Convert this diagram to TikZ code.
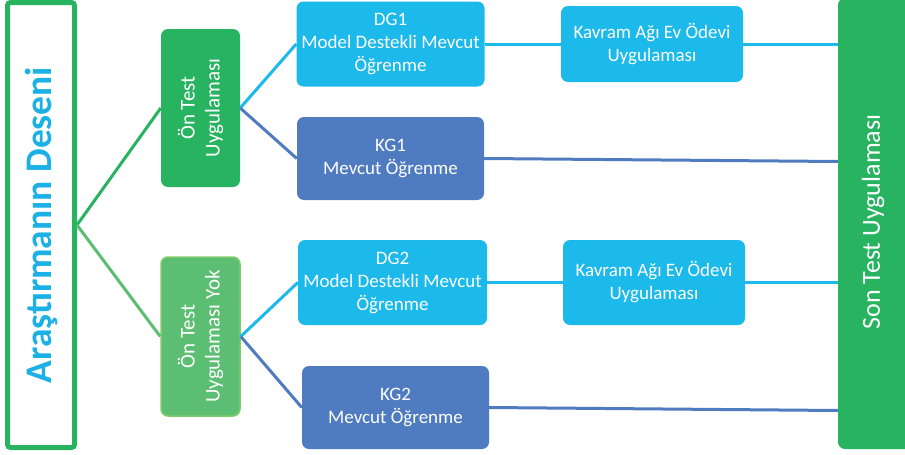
\documentclass[tikz,border=0pt]{standalone}
\usepackage{fontspec}
\setmainfont{Carlito}
\usetikzlibrary{calc}
\definecolor{cyanbox}{HTML}{1CB9EB}
\definecolor{bluebox}{HTML}{4F7BC0}
\definecolor{greenbox}{HTML}{27B35F}
\definecolor{lgreen}{HTML}{5CBE72}
\definecolor{lgreenb}{HTML}{7FCB6C}
\definecolor{titlecyan}{HTML}{1BB0E6}
\tikzset{
  box/.style={rounded corners=7pt, inner sep=0pt, align=center, text=white,
    font=\fontsize{19}{23}\selectfont},
  cbox/.style={box, fill=cyanbox},
  bbox/.style={box, fill=bluebox},
  gbox/.style={box, fill=greenbox},
  lgbox/.style={box, fill=lgreen, draw=lgreenb, line width=1.5pt},
  rottext/.style={rotate=90, align=center, text=white, font=\fontsize{21}{25}\selectfont},
  conn/.style={line width=3pt},
}
\begin{document}
\begin{tikzpicture}[x=1pt,y=-1pt]
\clip (0,0) rectangle (905,455);
\fill[white] (0,0) rectangle (905,455);
% title box
\node[draw=greenbox, line width=5pt, rounded corners=3pt, minimum width=67pt, minimum height=445pt, inner sep=0pt] (title) at (41,225) {};
\node[rotate=90, text=titlecyan, font=\fontsize{37.5}{40}\selectfont\bfseries] at (41,225) {Araştırmanın Deseni};
% group boxes
\node[gbox, minimum width=79pt, minimum height=158pt] (ont) at (200.5,108) {};
\node[rottext] at (200.5,108) {Ön Test\\Uygulaması};
\node[lgbox, minimum width=79pt, minimum height=159pt] (ony) at (200.5,336.5) {};
\node[rottext] at (200.5,336.5) {Ön Test\\Uygulaması Yok};
% groups
\node[cbox, minimum width=188pt, minimum height=85pt] (dg1) at (390.5,44) {DG1\\Model Destekli Mevcut\\Öğrenme};
\node[bbox, minimum width=187pt, minimum height=83pt] (kg1) at (390.5,158.5) {KG1\\Mevcut Öğrenme};
\node[cbox, minimum width=189pt, minimum height=85pt] (dg2) at (392.5,282.5) {DG2\\Model Destekli Mevcut\\Öğrenme};
\node[bbox, minimum width=187pt, minimum height=83pt] (kg2) at (395.5,407.5) {KG2\\Mevcut Öğrenme};
% homework
\node[cbox, minimum width=182pt, minimum height=76pt] (kav1) at (652,44) {Kavram Ağı Ev Ödevi\\Uygulaması};
\node[cbox, minimum width=182pt, minimum height=85pt] (kav2) at (654,282.5) {Kavram Ağı Ev Ödevi\\Uygulaması};
% post test
\node[gbox, minimum width=80pt, minimum height=451pt] (son) at (878,223.5) {};
\node[rotate=90, text=white, font=\fontsize{26}{30}\selectfont] at (873,222) {Son Test Uygulaması};
% connectors
\draw[conn, greenbox] (title.east) -- (ont.west);
\draw[conn, lgreen] (title.east) -- (ony.west);
\draw[conn, cyanbox] (ont.east) -- (dg1.west);
\draw[conn, bluebox] (ont.east) -- (kg1.west);
\draw[conn, cyanbox] (ony.east) -- (dg2.west);
\draw[conn, bluebox] (ony.east) -- (kg2.west);
\draw[conn, cyanbox] (dg1.east) -- (kav1.west);
\draw[conn, cyanbox] (kav1.east) -- (kav1.east -| son.west);
\draw[conn, cyanbox] (dg2.east) -- (kav2.west);
\draw[conn, cyanbox] (kav2.east) -- (kav2.east -| son.west);
\draw[conn, bluebox] (kg1.east) -- ($(kg1.east -| son.west)+(0,3)$);
\draw[conn, bluebox] (kg2.east) -- ($(kg2.east -| son.west)+(0,3)$);
\end{tikzpicture}
\end{document}
